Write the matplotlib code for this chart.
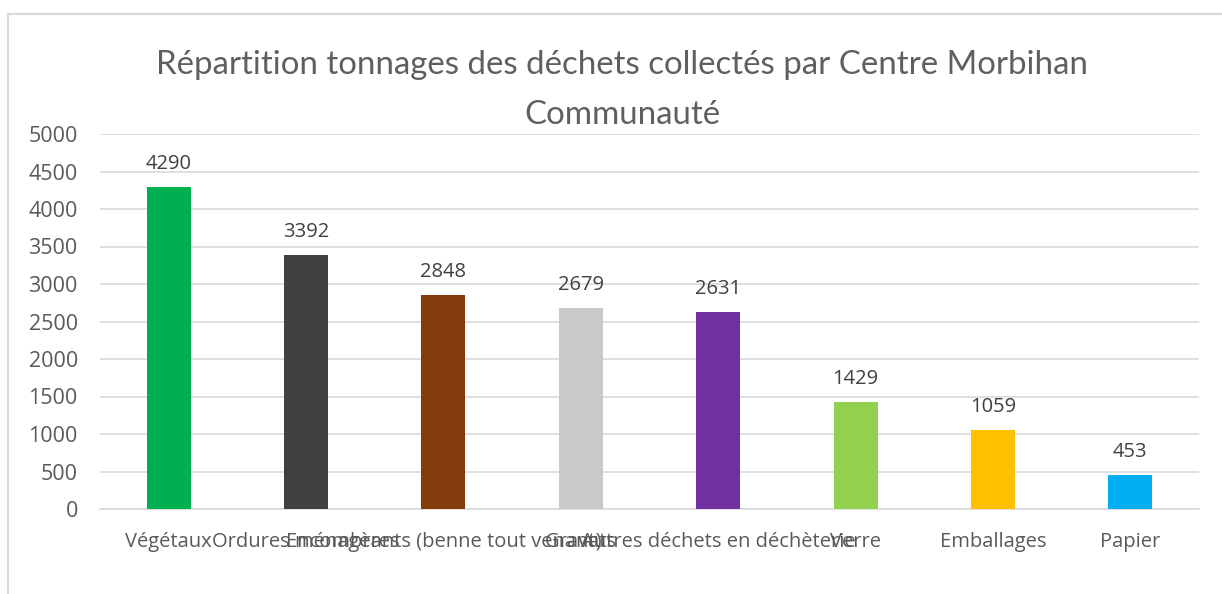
import matplotlib.pyplot as plt
import matplotlib.transforms as mtransforms
from matplotlib.patches import Rectangle

categories = ['Végétaux', 'Ordures ménagères', 'Encombrants (benne tout venant)', 'Gravats',
              'Autres déchets en déchèterie', 'Verre', 'Emballages', 'Papier']
tonnages = [4290, 3392, 2848, 2679, 2631, 1429, 1059, 453]
colors = ['#00B050', '#404040', '#843C0C', '#C9C9C9', '#7030A0', '#92D050', '#FFC000', '#00B0F0']
yticks = [0, 500, 1000, 1500, 2000, 2500, 3000, 3500, 4000, 4500, 5000]

W, H = 1222, 594
fig = plt.figure(figsize=(W / 100, H / 100), dpi=100)
fig.patches.append(Rectangle((8 / W, -0.1), 1.2, (594 - 14) / H + 0.1, transform=fig.transFigure,
                             fill=False, edgecolor='#D9D9D9', linewidth=1.5))

# plot area in pixels
x0, x1 = 100, 1199
ytop, ybot = 134, 509
ax = fig.add_axes([x0 / W, 1 - ybot / H, (x1 - x0) / W, (ybot - ytop) / H])

x = list(range(len(categories)))
ax.bar(x, tonnages, width=0.32, color=colors, zorder=3)
for xi, v in zip(x, tonnages):
    ax.text(xi, v + 240, str(v), ha='center', va='baseline', fontsize=14.5,
            color='#404040', family='Open Sans')

ax.set_xlim(-0.5, len(categories) - 0.5)
ax.set_ylim(0, 5000)
ax.set_yticks(yticks)
ax.set_xticks(x)
ax.set_xticklabels([])
# category labels, all on the same baseline (they overlap as in the original)
trans = mtransforms.blended_transform_factory(ax.transData, fig.transFigure)
for xi, lab in zip(x, categories):
    ax.text(xi, 1 - 547 / H, lab, transform=trans, ha='center', va='baseline',
            fontsize=14.5, color='#595959', family='Open Sans')
for lab in ax.get_yticklabels():
    lab.set_fontsize(15.5)
    lab.set_color('#595959')
    lab.set_family('Open Sans')
ax.tick_params(axis='both', length=0)
ax.tick_params(axis='y', pad=16)
ax.grid(axis='y', color='#D9D9D9', linewidth=1.2, zorder=0)
for s in ['top', 'right', 'left']:
    ax.spines[s].set_visible(False)
ax.spines['bottom'].set_color('#D9D9D9')
ax.spines['bottom'].set_linewidth(1.2)

fig.text(622 / W, 1 - 65 / H, 'Répartition tonnages des déchets collectés par Centre Morbihan',
         ha='center', va='center', fontsize=23.8, color='#5F5F5F', family='Lato')
fig.text(622 / W, 1 - 115 / H, 'Communauté',
         ha='center', va='center', fontsize=23.8, color='#5F5F5F', family='Lato')

fig.savefig('out.png', dpi=100)
